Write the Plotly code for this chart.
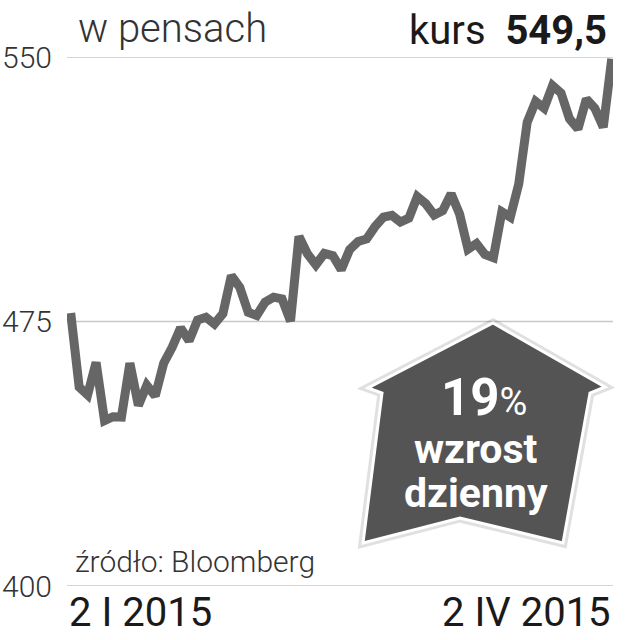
import pandas as pd
import plotly.graph_objects as go

# ---- data -------------------------------------------------------------
dates = [d.strftime("%Y-%m-%d") for d in pd.bdate_range("2015-01-02", "2015-04-02")]
prices = [477.4, 456.4, 454.2, 463.4, 446.9, 448.0, 447.9, 463.2, 451.2, 456.9,
          453.9, 463.2, 467.7, 473.2, 469.5, 475.4, 476.2, 474.3, 477.2, 488.0,
          484.7, 477.6, 476.7, 480.5, 481.9, 481.4, 475.1, 499.1, 494.2, 491.1,
          494.3, 493.7, 489.7, 495.4, 497.7, 498.4, 501.9, 504.6, 505.1, 503.2,
          504.3, 510.4, 508.4, 505.2, 506.4, 511.2, 505.5, 495.5, 497.1, 494.0,
          493.1, 506.1, 504.6, 514.0, 531.5, 537.4, 535.5, 541.9, 539.8, 532.5,
          529.6, 538.1, 535.5, 530.1, 549.5]
y_ticks = [400, 475, 550]
y_tick_labels = ["400", "475", "550"]
x_tick_labels = ["2 I 2015", "2 IV 2015"]
unit_label = "w pensach"
last_label = "kurs"
last_value = "549,5"
badge_lines = ["19", "%", "wzrost", "dzienny"]
source = "źródło: Bloomberg"

# ---- layout helpers (pixel -> paper) -----------------------------------
W, H = 630, 640
L, R, T, B = 67, 17, 57, 54
PW, PH = W - L - R, H - T - B


def px(x):
    return (x - L) / PW


def py(y):
    return (H - B - y) / PH


fig = go.Figure()
fig.add_trace(go.Scatter(
    x=dates, y=prices, mode="lines",
    line=dict(color="#666666", width=9),
    hoverinfo="x+y", showlegend=False,
))

shapes = []
for v in y_ticks:
    shapes.append(dict(type="line", xref="paper", yref="y", x0=0, x1=1, y0=v, y1=v,
                       line=dict(color="#c8c8c8", width=1.5), layer="below"))

# badge arrow
pts = [(493, 323), (605, 387), (590, 393), (563, 543), (460, 518),
       (363, 543), (382, 393), (368, 388)]
path = "M " + " L ".join(f"{px(a):.5f},{py(b):.5f}" for a, b in pts) + " Z"
shapes.append(dict(type="path", xref="paper", yref="paper", path=path,
                   fillcolor="rgba(0,0,0,0.10)", line=dict(color="rgba(0,0,0,0.12)", width=9)))
shapes.append(dict(type="path", xref="paper", yref="paper", path=path,
                   fillcolor="#545454", line=dict(color="#ffffff", width=3)))

ann = []
ann.append(dict(x=px(76), y=py(29), xref="paper", yref="paper", xanchor="left", yanchor="middle",
                text=unit_label, showarrow=False,
                font=dict(family="Roboto", size=40, color="#333333", weight=300)))
ann.append(dict(x=px(609), y=py(31), xref="paper", yref="paper", xanchor="right", yanchor="middle",
                text=f"{last_label}  <b>{last_value}</b>", showarrow=False,
                font=dict(family="Roboto", size=40, color="#1a1a1a")))
ann.append(dict(x=px(73), y=py(561), xref="paper", yref="paper", xanchor="left", yanchor="middle",
                text=source, showarrow=False,
                font=dict(family="Roboto", size=30, color="#333333", weight=300)))
ann.append(dict(x=0, y=py(612), xref="paper", yref="paper", xanchor="left", yanchor="middle",
                text=x_tick_labels[0], showarrow=False,
                font=dict(family="Roboto", size=40, color="#1a1a1a")))
ann.append(dict(x=1, y=py(612), xref="paper", yref="paper", xanchor="right", yanchor="middle",
                text=x_tick_labels[1], showarrow=False,
                font=dict(family="Roboto", size=40, color="#1a1a1a")))
# badge text
ann.append(dict(x=px(484), y=py(397), xref="paper", yref="paper", xanchor="center", yanchor="middle",
                text=f"<b>{badge_lines[0]}</b><span style='font-size:38px'>{badge_lines[1]}</span>",
                showarrow=False, font=dict(family="Roboto", size=51, color="#ffffff"),
                height=42))
ann.append(dict(x=px(476), y=py(449), xref="paper", yref="paper", xanchor="center", yanchor="middle",
                text=f"<b>{badge_lines[2]}</b>", showarrow=False,
                font=dict(family="Roboto", size=41, color="#ffffff"), height=40))
ann.append(dict(x=px(476), y=py(493), xref="paper", yref="paper", xanchor="center", yanchor="middle",
                text=f"<b>{badge_lines[3]}</b>", showarrow=False,
                font=dict(family="Roboto", size=41, color="#ffffff"), height=44))

fig.update_layout(
    width=W, height=H,
    margin=dict(l=L, r=R, t=T, b=B, pad=0, autoexpand=False),
    paper_bgcolor="white", plot_bgcolor="white",
    xaxis=dict(type="category", range=[-0.44, 64.15], showgrid=False, showticklabels=False,
               zeroline=False, showline=False, ticks="", automargin=False),
    yaxis=dict(range=[400, 550], tickvals=y_ticks, ticktext=y_tick_labels, showgrid=False,
               zeroline=False, showline=False, ticks="", ticklabelstandoff=14, automargin=False,
               tickfont=dict(family="Roboto", size=30, color="#333333", weight=300)),
    shapes=shapes, annotations=ann,
)

fig.write_html("out.html", config={"displayModeBar": False},
               post_script="document.body.style.margin='0';")
